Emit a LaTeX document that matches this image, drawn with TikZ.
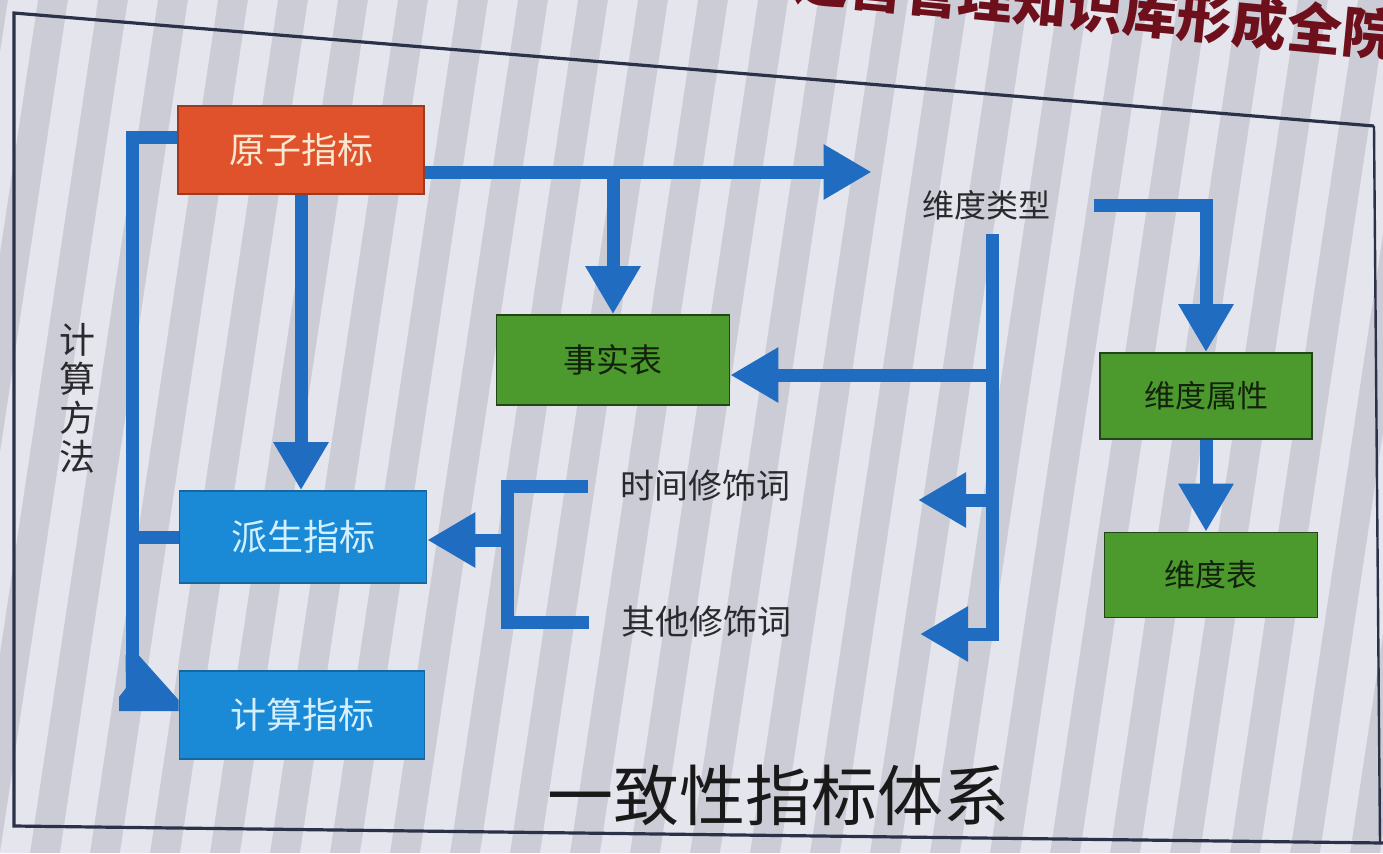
\documentclass[tikz,border=0pt]{standalone}
\usepackage{fontspec}
\setmainfont{Noto Sans CJK SC}
\usetikzlibrary{arrows.meta}
\definecolor{bgdark}{HTML}{CCCCD6}
\definecolor{bglight}{HTML}{E5E5ED}
\definecolor{flow}{HTML}{1F6CC0}
\definecolor{boxorange}{HTML}{E0522B}
\definecolor{boxgreen}{HTML}{4C9A2E}
\definecolor{boxblue}{HTML}{1A8AD6}
\definecolor{framec}{HTML}{2B3148}
\definecolor{titlered}{HTML}{6E0F1C}
\definecolor{txtcream}{HTML}{F7E8D2}
\definecolor{txtdark}{HTML}{13220C}
\definecolor{txtlight}{HTML}{D4F0FF}
\definecolor{lbl}{HTML}{2A2A2E}
\begin{document}
\begin{tikzpicture}[x=0.5pt,y=-0.5pt, line join=miter,
  flowline/.style={draw=flow, line width=6.5pt},
  flowarrow/.style={flowline, -{Triangle[width=26pt,length=24pt]}},
  basebox/.style={inner sep=0pt, line width=0.8pt},
  orangebox/.style={basebox, fill=boxorange, draw=boxorange!70!black, text=txtcream},
  greenbox/.style={basebox, fill=boxgreen, draw=boxgreen!45!black, text=txtdark},
  bluebox/.style={basebox, fill=boxblue, draw=boxblue!75!black, text=txtlight},
  plainlbl/.style={text=lbl, inner sep=2pt}]
\useasboundingbox (0,0) rectangle (1383,853);
\clip (0,0) rectangle (1383,853);
% background stripes
\fill[bgdark] (0,0) rectangle (1383,853);
\foreach \i in {-6,...,26} {
  \fill[bglight] ({\i*60},853) -- ({\i*60+30},853) -- ({\i*60+30+0.15*853},0) -- ({\i*60+0.15*853},0) -- cycle;
}
% frame
\draw[framec, line width=1.6pt] (1374,126) -- (14,13) -- (14,826) -- (1383,843);
\draw[framec, line width=1.2pt] (1374,126) -- (1380,843);
% partial title (cut off at the top, as in the photo)
\node[anchor=base west, rotate=-5.5, inner sep=0pt, text=titlered,
      font=\fontsize{27.5}{27.5}\selectfont\bfseries] (title) at (628,-17) {体系、运营管理知识库形成全院};

% boxes
\node[orangebox, minimum width=123pt, minimum height=44pt, font=\fontsize{18}{18}\selectfont] (yz) at (301,150) {原子指标};
\node[greenbox, minimum width=116.5pt, minimum height=45pt, font=\fontsize{16.5}{16.5}\selectfont] (sst) at (613,360) {事实表};
\node[greenbox, minimum width=106pt, minimum height=43pt, font=\fontsize{15.5}{15.5}\selectfont] (wdsx) at (1206,396) {维度属性};
\node[greenbox, minimum width=106.5pt, minimum height=42.5pt, font=\fontsize{15.5}{15.5}\selectfont] (wdb) at (1211,575) {维度表};
\node[bluebox, minimum width=123.5pt, minimum height=46pt, font=\fontsize{18}{18}\selectfont] (ps) at (303,537) {派生指标};
\node[bluebox, minimum width=122.5pt, minimum height=44pt, font=\fontsize{18}{18}\selectfont] (js) at (302,715) {计算指标};

% labels
\node[plainlbl, font=\fontsize{16}{16}\selectfont] (wdlx) at (986,205) {维度类型};
\node[plainlbl, font=\fontsize{17}{17}\selectfont] (sjx) at (705,486) {时间修饰词};
\node[plainlbl, font=\fontsize{17}{17}\selectfont] (qt) at (706,622) {其他修饰词};
\node[plainlbl, align=center, font=\fontsize{18}{19.5}\selectfont] (jsff) at (77,398) {计\\算\\方\\法};
\node[text=black!90, inner sep=0pt, font=\fontsize{33}{33}\selectfont] (sys) at (778,795) {一致性指标体系};

% coordinates
\coordinate (j1) at (613,172);
\coordinate (lt) at (132,137);
\coordinate (lb) at (132,660);
\coordinate (sp1) at (992,375);
\coordinate (sp2) at (992,500);
\coordinate (sp3) at (992,634);
\coordinate (fe2) at (918,500);
\coordinate (fe3) at (920,634);
\coordinate (bx) at (507,540);

% connectors
\draw[flowarrow, shorten >=23pt] (yz.east |- j1) -- (wdlx.west |- j1);
\draw[flowarrow] (j1) -- (sst.north -| j1);
\draw[flowarrow] (yz.south) -- (yz.south |- ps.north);
\draw[flowline] (yz.west |- lt) -| (lb);
\draw[flowline] (ps.west) -- (ps.west -| lb);
\fill[flow] (125.5,655) -- (138.5,655) -- (js.west |- 0,700) -- (js.west |- 0,711) -- (119,711) -- (119,697) -- (126,688) -- cycle;
\draw[flowarrow, shorten <=20pt] (wdlx.east) -| (wdsx.north);
\draw[flowarrow] (wdsx.south) -- (wdsx.south |- wdb.north);
\draw[flowarrow, shorten <=5pt] (wdlx.south -| sp3) -- (sp3) -- (fe3);
\draw[flowarrow] (sp1) -- (sst.east |- sp1);
\draw[flowarrow] (sp2) -- (fe2);
\draw[flowline, shorten <=14pt, shorten >=14pt] (sjx.west) -| (bx) |- (qt.west);
\draw[flowarrow] (bx) -- (ps.east |- bx);
\end{tikzpicture}
\end{document}
